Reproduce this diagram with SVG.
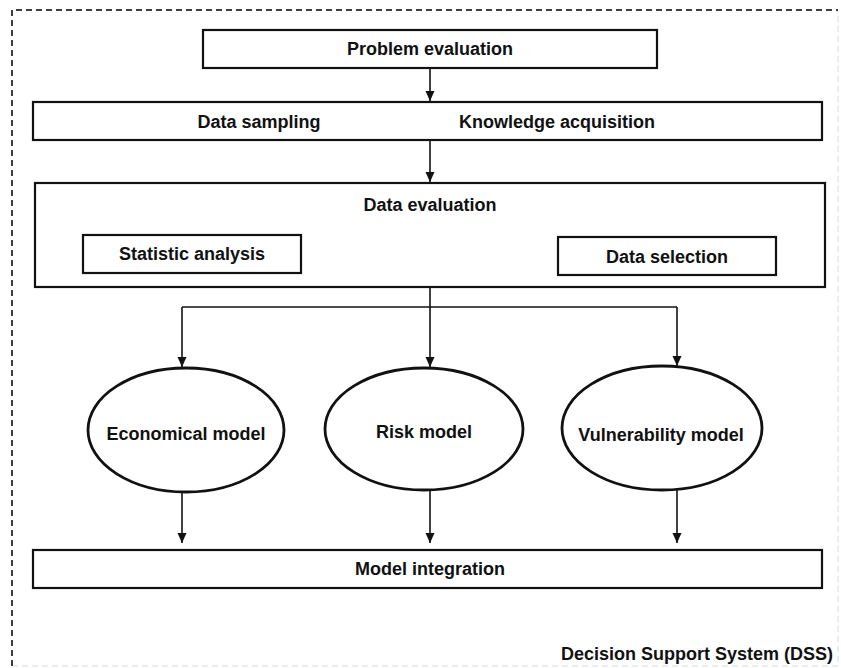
<svg xmlns="http://www.w3.org/2000/svg" width="841" height="668" viewBox="0 0 841 668">
<defs>
<style>
.box{fill:#fff;stroke:#111;stroke-width:2.2}
.ell{fill:#fff;stroke:#111;stroke-width:2.8}
.lbl{font-family:"Liberation Sans",Arial,sans-serif;font-weight:bold;font-size:18px;fill:#111;text-anchor:middle}
.con{fill:none;stroke:#111;stroke-width:1.6}
.frame{fill:none;stroke:#000;stroke-width:1.5;stroke-dasharray:6 4}
</style>
<marker id="ah" viewBox="0 0 10 10" refX="10" refY="5" markerWidth="10" markerHeight="10" markerUnits="userSpaceOnUse" orient="auto">
<path d="M0,0.5 L10,5 L0,9.5 Z" fill="#111"/>
</marker>
</defs>
<rect width="841" height="668" fill="#fff"/>
<path class="frame" d="M12,666 L12,10 L838,10"/>
<path class="frame" d="M12,666 L838,666 L838,10" stroke-opacity="0.1"/>

<g id="problem-evaluation">
<rect class="box" x="203" y="30" width="454" height="38"/>
<text class="lbl" x="430" y="55">Problem evaluation</text>
</g>
<g id="data-sampling-knowledge">
<rect class="box" x="33" y="102" width="789" height="38"/>
<text class="lbl" x="259" y="128">Data sampling</text>
<text class="lbl" x="557" y="128">Knowledge acquisition</text>
</g>
<g id="data-evaluation">
<rect class="box" x="35" y="183" width="790" height="104"/>
<text class="lbl" x="430" y="211">Data evaluation</text>
</g>
<g id="statistic-analysis">
<rect class="box" x="83" y="235" width="218" height="38"/>
<text class="lbl" x="192" y="260">Statistic analysis</text>
</g>
<g id="data-selection">
<rect class="box" x="558" y="237" width="218" height="38"/>
<text class="lbl" x="667" y="263">Data selection</text>
</g>
<g id="economical-model">
<ellipse class="ell" cx="186" cy="430" rx="98" ry="62"/>
<text class="lbl" x="186" y="440">Economical model</text>
</g>
<g id="risk-model">
<ellipse class="ell" cx="424" cy="429" rx="99" ry="61"/>
<text class="lbl" x="424" y="438">Risk model</text>
</g>
<g id="vulnerability-model">
<ellipse class="ell" cx="662" cy="428" rx="100" ry="62"/>
<text class="lbl" x="661" y="441">Vulnerability model</text>
</g>
<g id="model-integration">
<rect class="box" x="33" y="550" width="789" height="38"/>
<text class="lbl" x="430" y="575">Model integration</text>
</g>
<g id="dss-label">
<text class="lbl" x="833" y="660" style="text-anchor:end">Decision Support System (DSS)</text>
</g>

<g id="connectors">
<line class="con" x1="430" y1="69" x2="430" y2="101" marker-end="url(#ah)"/>
<line class="con" x1="430" y1="141" x2="430" y2="182" marker-end="url(#ah)"/>
<path class="con" d="M430,288 L430,307"/>
<path class="con" d="M182,307 L677,307"/>
<line class="con" x1="182" y1="307" x2="182" y2="367" marker-end="url(#ah)"/>
<line class="con" x1="430" y1="307" x2="430" y2="367" marker-end="url(#ah)"/>
<line class="con" x1="677" y1="307" x2="677" y2="366" marker-end="url(#ah)"/>
<line class="con" x1="182" y1="493" x2="182" y2="543" marker-end="url(#ah)"/>
<line class="con" x1="430" y1="490" x2="430" y2="543" marker-end="url(#ah)"/>
<line class="con" x1="677" y1="490" x2="677" y2="543" marker-end="url(#ah)"/>
</g>
</svg>
